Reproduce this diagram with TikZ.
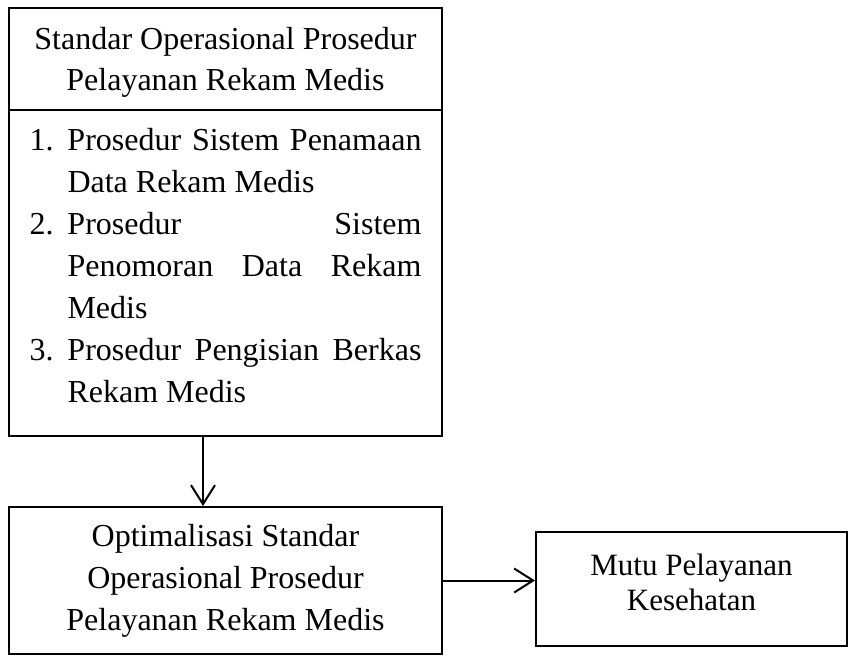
\documentclass[tikz,border=0pt]{standalone}
\usepackage{fontspec}
\setmainfont{Liberation Serif}
\usepackage{tikz}
\usetikzlibrary{
	arrows.meta,
	positioning
}
\tikzset{every path/.append style={line width=2pt}}
\tikzset{every path/.append style={>={Straight Barb[length=19pt,width=24pt]}}}
\tikzset{
	box/.style={draw,rectangle,inner sep=0pt,align=center,font=\fontsize{32}{41}\selectfont}
}
\newcommand{\sopItem}[2]{\hangindent=38pt\hangafter=1\noindent\makebox[38pt][l]{#1}#2\par}

\begin{document}
\begin{tikzpicture}[x=1pt,y=-1pt]
					\useasboundingbox (0,0) rectangle (848,656);
					
					\node[box,minimum width=433pt,minimum height=102pt,text depth=0pt] (sopHead) at (225.5,59) {Standar Operasional Prosedur\\Pelayanan Rekam Medis};
					\node[box,minimum width=433pt,minimum height=326pt,text width=392pt,align=justify,text depth=268pt,font=\fontsize{32}{42}\selectfont] (sopList) at (225.5,273) {\hyphenpenalty=10000\tolerance=9999\parskip=0pt
						\sopItem{1.}{Prosedur Sistem Penamaan\linebreak Data Rekam Medis}
						\sopItem{2.}{Prosedur Sistem\linebreak Penomoran Data Rekam\linebreak Medis}
						\sopItem{3.}{Prosedur Pengisian Berkas\linebreak Rekam Medis}};
					
					\node[box,minimum width=433pt,minimum height=147pt,font=\fontsize{32}{42}\selectfont] (optSop) at (225.5,580.5) {Optimalisasi Standar\\Operasional Prosedur\\Pelayanan Rekam Medis};
					\node[box,minimum width=311pt,minimum height=114pt,text depth=14pt,font=\fontsize{31}{35}\selectfont] (mutu) at (691.5,589) {Mutu Pelayanan\\Kesehatan};
					
					\draw[->] ([xshift=-22.5pt]sopList.south) -- ([xshift=-22.5pt]optSop.north);
					\draw[->] (optSop.east) -- (optSop.east -| mutu.west);
				\end{tikzpicture}
\end{document}
